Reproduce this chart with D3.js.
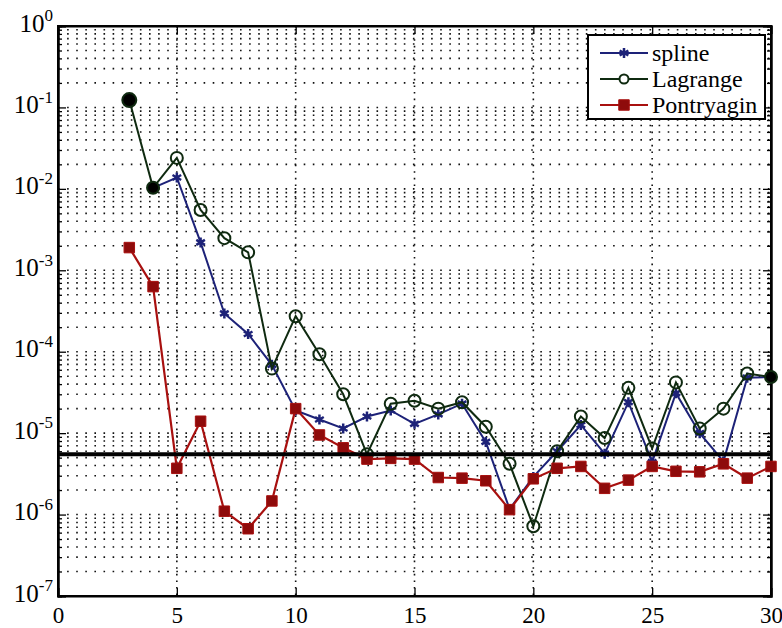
<!DOCTYPE html>
<html>
<head>
<meta charset="utf-8">
<script src="https://cdn.jsdelivr.net/npm/d3@7"></script>
<style>
  body { margin: 0; background: #fff; }
  svg text { font-family: "Liberation Serif", "DejaVu Serif", serif; }
</style>
</head>
<body>
<svg width="782" height="628"></svg>
<script>
"use strict";

// 데이터 (x = 반복 횟수, y = 오차)
const lagrangeX = d3.range(3, 31);
const lagrange = [0.123, 0.0103, 0.024, 0.0055, 0.00248, 0.00166, 6.2e-5, 2.73e-4, 9.3e-5, 3.0e-5,
  5.5e-6, 2.3e-5, 2.5e-5, 2.0e-5, 2.4e-5, 1.2e-5, 4.2e-6, 7.2e-7, 6.0e-6, 1.6e-5,
  8.7e-6, 3.6e-5, 6.5e-6, 4.2e-5, 1.14e-5, 2.0e-5, 5.4e-5, 4.9e-5];
const lagrangeFilled = [3, 4, 30]; // 검은 점으로 채워진 지점

const splineX = d3.range(4, 31);
const spline = [0.0103, 0.0138, 0.0022, 2.95e-4, 1.65e-4, 6.9e-5, 1.9e-5, 1.47e-5, 1.14e-5, 1.6e-5,
  1.9e-5, 1.3e-5, 1.7e-5, 2.3e-5, 7.8e-6, 1.17e-6, 2.9e-6, 6.0e-6, 1.26e-5, 5.6e-6,
  2.4e-5, 4.4e-6, 3.1e-5, 1.0e-5, 4.5e-6, 4.8e-5, 4.9e-5];

const pontX = d3.range(3, 31);
const pontryagin = [0.0019, 6.3e-4, 3.7e-6, 1.4e-5, 1.1e-6, 6.7e-7, 1.47e-6, 2.0e-5, 9.5e-6, 6.6e-6,
  4.8e-6, 4.9e-6, 4.8e-6, 2.85e-6, 2.8e-6, 2.6e-6, 1.15e-6, 2.75e-6, 3.7e-6, 3.9e-6,
  2.1e-6, 2.65e-6, 3.9e-6, 3.4e-6, 3.35e-6, 4.2e-6, 2.8e-6, 3.9e-6];

const threshold = 5.5e-6;
const xTicks = [0, 5, 10, 15, 20, 25, 30];
const yExps = [0, -1, -2, -3, -4, -5, -6, -7];
const legendNames = ["spline", "Lagrange", "Pontryagin"];

const pLeft = 58, pRight = 771, pTop = 26, pBottom = 596;
const serif = "'Liberation Serif', 'DejaVu Serif', serif";
const svg = d3.select("svg");

const xScale = d3.scaleLinear().domain([0, 30]).range([pLeft, pRight]);
const yScale = d3.scaleLog().domain([1e-7, 1]).range([pBottom, pTop]);

// 마이너 눈금 값 (2..9 x 10^k)
const minorVals = [];
for (let e = -7; e < 0; e++) {
  for (let m = 2; m <= 9; m++) minorVals.push(m * Math.pow(10, e));
}
const majorVals = yExps.map((e) => Math.pow(10, e));

// 그리드
const grid = svg.append("g").attr("stroke", "#111").attr("stroke-width", 1.6).attr("fill", "none");
grid.selectAll("line.hy")
  .data(minorVals.concat(majorVals.slice(1, -1)))
  .enter().append("line")
  .attr("x1", pLeft).attr("x2", pRight)
  .attr("y1", (d) => yScale(d)).attr("y2", (d) => yScale(d))
  .attr("stroke-dasharray", "1.6,7.5");
grid.selectAll("line.vx")
  .data(xTicks.slice(1, -1))
  .enter().append("line")
  .attr("y1", pTop).attr("y2", pBottom)
  .attr("x1", (d) => xScale(d)).attr("x2", (d) => xScale(d))
  .attr("stroke-dasharray", "1.6,5");

// 축 (MATLAB 처럼 눈금이 안쪽으로)
const xAxis = d3.axisBottom(xScale).tickValues(xTicks).tickSize(-8).tickPadding(11).tickFormat(d3.format("d"));
const gx = svg.append("g").attr("transform", `translate(0,${pBottom})`).call(xAxis);
gx.attr("font-family", serif);
gx.selectAll("text").attr("font-size", 23).attr("fill", "#000");
svg.append("g").attr("transform", `translate(0,${pTop})`)
  .call(d3.axisTop(xScale).tickValues(xTicks).tickSize(-8).tickFormat(""));

const yAxis = d3.axisLeft(yScale).tickValues(majorVals).tickSize(-8).tickPadding(6).tickFormat(() => "");
const gy = svg.append("g").attr("transform", `translate(${pLeft},0)`).call(yAxis);
gy.attr("font-family", serif);
svg.append("g").attr("transform", `translate(${pLeft},0)`)
  .call(d3.axisLeft(yScale).tickValues(minorVals).tickSize(-4).tickFormat(""));
svg.append("g").attr("transform", `translate(${pRight},0)`)
  .call(d3.axisRight(yScale).tickValues(majorVals).tickSize(-8).tickFormat(""));
svg.append("g").attr("transform", `translate(${pRight},0)`)
  .call(d3.axisRight(yScale).tickValues(minorVals).tickSize(-4).tickFormat(""));

svg.selectAll(".domain").attr("stroke", "#000").attr("stroke-width", 2);
svg.selectAll(".tick line").attr("stroke", "#000").attr("stroke-width", 1.3);

// y 라벨: 10^k
gy.selectAll(".tick").each(function (d) {
  const t = d3.select(this).select("text");
  t.attr("x", -5).attr("dy", "0.2em").attr("font-size", 25).attr("fill", "#000");
  t.append("tspan").text("10");
  t.append("tspan").attr("dy", "-0.6em").attr("font-size", 17).text(Math.round(Math.log10(d)));
});

// 박스 위쪽/오른쪽
svg.append("rect").attr("x", pLeft).attr("y", pTop).attr("width", pRight - pLeft).attr("height", pBottom - pTop)
  .attr("fill", "none").attr("stroke", "#000").attr("stroke-width", 2);

const blue = "#1d2278", green = "#0f2a10", red = "#a8100f", redFill = "#8e0b0b";

const line = d3.line().x((d) => xScale(d[0])).y((d) => yScale(d[1]));
const splinePts = splineX.map((x, i) => [x, spline[i]]);
const lagPts = lagrangeX.map((x, i) => [x, lagrange[i]]);
const pontPts = pontX.map((x, i) => [x, pontryagin[i]]);

const star = d3.symbol().type(d3.symbolAsterisk).size(70);
const sq = d3.symbol().type(d3.symbolSquare).size(110);

// spline
svg.append("path").attr("d", line(splinePts)).attr("fill", "none").attr("stroke", blue).attr("stroke-width", 2);
svg.selectAll("path.star").data(splinePts).enter().append("path").attr("class", "star")
  .attr("d", star).attr("transform", (d) => `translate(${xScale(d[0])},${yScale(d[1])})`)
  .attr("fill", "none").attr("stroke", blue).attr("stroke-width", 2.5);

// Lagrange
svg.append("path").attr("d", line(lagPts)).attr("fill", "none").attr("stroke", green).attr("stroke-width", 2);
svg.selectAll("circle.lag").data(lagPts).enter().append("circle").attr("class", "lag")
  .attr("cx", (d) => xScale(d[0])).attr("cy", (d) => yScale(d[1]))
  .attr("r", (d) => (d[0] === 3 ? 7 : 6))
  .attr("fill", (d) => lagrangeFilled.includes(d[0]) ? "#000" : "none")
  .attr("stroke", green).attr("stroke-width", 2);

// Pontryagin
svg.append("path").attr("d", line(pontPts)).attr("fill", "none").attr("stroke", red).attr("stroke-width", 2.2);
svg.selectAll("path.sq").data(pontPts).enter().append("path").attr("class", "sq")
  .attr("d", sq).attr("transform", (d) => `translate(${xScale(d[0])},${yScale(d[1])})`)
  .attr("fill", redFill).attr("stroke", red).attr("stroke-width", 1);

// 기준선
svg.append("line").attr("x1", pLeft).attr("x2", pRight)
  .attr("y1", yScale(threshold)).attr("y2", yScale(threshold))
  .attr("stroke", "#000").attr("stroke-width", 4);

// 범례
const lg = svg.append("g").attr("transform", "translate(588,35)");
lg.append("rect").attr("width", 177).attr("height", 84).attr("fill", "#fff")
  .attr("stroke", "#000").attr("stroke-width", 2);
const colors = [blue, green, red];
legendNames.forEach((name, i) => {
  const y = 18 + i * 26;
  const row = lg.append("g").attr("transform", `translate(0,${y})`);
  row.append("line").attr("x1", 12).attr("x2", 60).attr("stroke", colors[i]).attr("stroke-width", 2);
  if (i === 0) {
    row.append("path").attr("d", star).attr("transform", "translate(36,0)")
      .attr("fill", "none").attr("stroke", blue).attr("stroke-width", 2.5);
  } else if (i === 1) {
    row.append("circle").attr("cx", 36).attr("r", 4.5).attr("fill", "#fff").attr("stroke", green).attr("stroke-width", 2);
  } else {
    row.append("path").attr("d", sq).attr("transform", "translate(36,0)").attr("fill", redFill).attr("stroke", red);
  }
  row.append("text").attr("x", 64).attr("dy", "0.35em").attr("font-size", 24)
    .attr("font-family", serif).attr("fill", "#000").text(name);
});
</script>
</body>
</html>
